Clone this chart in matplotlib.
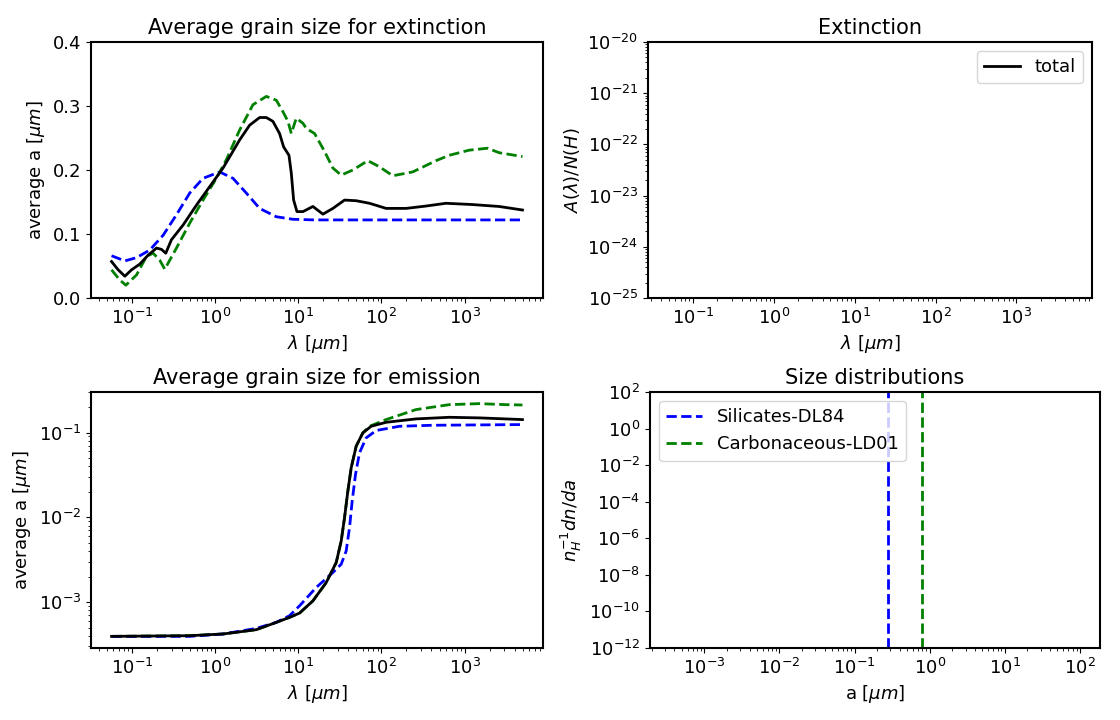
import numpy as np
import matplotlib
matplotlib.use("Agg")
import matplotlib.pyplot as plt

plt.rcParams['font.size'] = 13
plt.rcParams['axes.titlesize'] = 15
plt.rcParams['axes.linewidth'] = 1.5

# ---------------- data ----------------
# Average grain size for extinction (log10 wavelength [um], value [um])
ext_tot_logwl = [-1.244, -1.164, -1.084, -1.004, -0.904, -0.804, -0.704, -0.644, -0.592, -0.524,
                 -0.384, -0.224, -0.064, 0.096, 0.296, 0.416, 0.536, 0.617, 0.696, 0.776,
                 0.825, 0.889, 0.917, 0.945, 0.985, 1.057, 1.177, 1.297, 1.417, 1.557,
                 1.697, 1.857, 2.057, 2.297, 2.537, 2.776, 3.096, 3.416, 3.696]
ext_tot_a = [0.057, 0.044, 0.034, 0.044, 0.053, 0.067, 0.078, 0.076, 0.070, 0.091,
             0.114, 0.145, 0.174, 0.203, 0.247, 0.270, 0.282, 0.282, 0.276, 0.257,
             0.236, 0.223, 0.195, 0.153, 0.135, 0.135, 0.143, 0.131, 0.140, 0.153,
             0.152, 0.148, 0.140, 0.140, 0.1437, 0.148, 0.146, 0.143, 0.1375]

ext_sil_logwl = [-1.244, -1.084, -0.944, -0.784, -0.624, -0.464, -0.304, -0.144, 0.056, 0.216,
                 0.376, 0.536, 0.736, 0.936, 1.2, 2.0, 3.0, 3.696]
ext_sil_a = [0.066, 0.058, 0.063, 0.075, 0.098, 0.130, 0.164, 0.187, 0.197, 0.187,
             0.164, 0.140, 0.127, 0.123, 0.122, 0.122, 0.122, 0.122]

ext_carb_logwl = [-1.244, -1.144, -1.072, -0.944, -0.824, -0.744, -0.664, -0.604, -0.464, -0.304,
                  -0.144, 0.016, 0.136, 0.296, 0.456, 0.617, 0.737, 0.817, 0.877, 0.917,
                  0.977, 1.057, 1.097, 1.197, 1.317, 1.417, 1.517, 1.657, 1.837, 1.977,
                  2.137, 2.377, 2.657, 2.816, 3.056, 3.276, 3.416, 3.696]
ext_carb_a = [0.044, 0.028, 0.020, 0.036, 0.065, 0.070, 0.059, 0.045, 0.078, 0.117,
              0.153, 0.187, 0.216, 0.2625, 0.302, 0.315, 0.309, 0.291, 0.276, 0.257,
              0.281, 0.273, 0.265, 0.257, 0.229, 0.203, 0.192, 0.200, 0.2146, 0.205,
              0.191, 0.197, 0.2146, 0.223, 0.231, 0.234, 0.227, 0.221]

# Average grain size for emission (log10 wavelength, log10 value)
emi_tot_logwl = [-1.244, -0.304, 0.096, 0.496, 0.736, 0.896, 1.017, 1.177, 1.337, 1.457,
                 1.517, 1.557, 1.597, 1.637, 1.697, 1.777, 1.877, 2.057, 2.417, 2.817,
                 3.177, 3.696]
emi_tot_loga = [-3.404, -3.396, -3.376, -3.325, -3.239, -3.18, -3.129, -2.985, -2.769, -2.533,
                -2.279, -2.004, -1.69, -1.416, -1.161, -1.004, -0.926, -0.879, -0.839, -0.82,
                -0.827, -0.847]

emi_sil_logwl = [-1.244, -0.304, 0.096, 0.496, 0.736, 0.896, 1.017, 1.217, 1.417, 1.517,
                 1.577, 1.617, 1.649, 1.689, 1.737, 1.817, 1.937, 2.217, 2.617, 3.696]
emi_sil_loga = [-3.404, -3.404, -3.376, -3.31, -3.239, -3.16, -3.043, -2.827, -2.651, -2.553,
                -2.396, -2.122, -1.808, -1.494, -1.239, -1.063, -0.976, -0.926, -0.914, -0.906]

emi_carb_logwl = [-1.244, -0.304, 0.096, 0.496, 0.736, 0.896, 1.017, 1.177, 1.337, 1.457,
                  1.517, 1.557, 1.597, 1.637, 1.697, 1.777, 1.857, 2.057, 2.417, 2.817,
                  3.177, 3.496, 3.696]
emi_carb_loga = [-3.404, -3.396, -3.376, -3.325, -3.239, -3.18, -3.129, -2.985, -2.769, -2.533,
                 -2.279, -2.004, -1.69, -1.416, -1.161, -1.004, -0.926, -0.847, -0.729, -0.671,
                 -0.659, -0.671, -0.675]

# Size distributions: location of the (narrow) distributions [um]
sil_a_peak = 0.28
carb_a_peak = 0.79

# ---------------- plot ----------------
fig = plt.figure(figsize=(11.2, 7.2), dpi=100)
W, H = 1120, 720
def pos(l, t, r, b):
    return [l / W, 1 - b / H, (r - l) / W, (b - t) / H]

ax1 = fig.add_axes(pos(91, 42, 543, 298))
ax2 = fig.add_axes(pos(648, 42, 1092, 298))
ax3 = fig.add_axes(pos(91, 392, 543, 648))
ax4 = fig.add_axes(pos(650, 392, 1100, 648))

lab_wl = r'$\lambda$ [$\mu m$]'
LW = 2.0

ax1.plot(10 ** np.array(ext_sil_logwl), ext_sil_a, 'b--', lw=LW)
ax1.plot(10 ** np.array(ext_carb_logwl), ext_carb_a, 'g--', lw=LW)
ax1.plot(10 ** np.array(ext_tot_logwl), ext_tot_a, 'k-', lw=LW)
ax1.set_xscale('log')
ax1.set_ylim(0, 0.4)
ax1.set_title('Average grain size for extinction')
ax1.set_xlabel(lab_wl)
ax1.set_ylabel(r'average a [$\mu m$]')

ax2.plot([], [], 'k-', lw=LW, label='total')
ax2.set_xscale('log')
ax2.set_yscale('log')
ax2.set_xlim(10 ** -1.557, 10 ** 3.935)
ax2.set_ylim(1e-25, 1e-20)
ax2.set_title('Extinction')
ax2.set_xlabel(lab_wl)
ax2.set_ylabel(r'$A(\lambda)/N(H)$')
ax2.legend(loc='upper right')

ax3.plot(10 ** np.array(emi_carb_logwl), 10 ** np.array(emi_carb_loga), 'g--', lw=LW)
ax3.plot(10 ** np.array(emi_sil_logwl), 10 ** np.array(emi_sil_loga), 'b--', lw=LW)
ax3.plot(10 ** np.array(emi_tot_logwl), 10 ** np.array(emi_tot_loga), 'k-', lw=LW)
ax3.set_xscale('log')
ax3.set_yscale('log')
ax3.set_title('Average grain size for emission')
ax3.set_xlabel(lab_wl)
ax3.set_ylabel(r'average a [$\mu m$]')

ax4.axvline(sil_a_peak, color='b', ls='--', lw=LW, label='Silicates-DL84')
ax4.axvline(carb_a_peak, color='g', ls='--', lw=LW, label='Carbonaceous-LD01')
ax4.set_xscale('log')
ax4.set_yscale('log')
ax4.set_xlim(10 ** -3.723, 10 ** 2.266)
ax4.set_ylim(1e-12, 1e2)
ax4.set_yticks([10.0 ** k for k in range(-12, 3, 2)])
ax4.set_title('Size distributions')
ax4.set_xlabel(r'a [$\mu m$]')
ax4.set_ylabel(r'$n_H^{-1} dn/da$')
ax4.legend(loc='upper left')

fig.savefig('out.png', dpi=100)
